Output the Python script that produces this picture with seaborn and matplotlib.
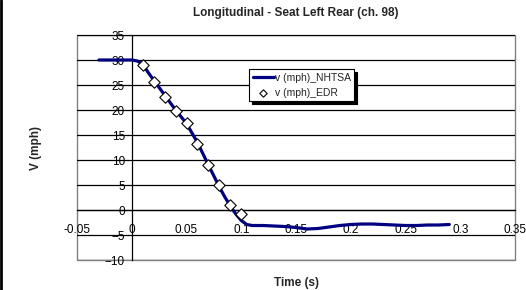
import pandas as pd
import matplotlib
matplotlib.use('Agg')
import matplotlib.pyplot as plt
import seaborn as sns
from matplotlib.patches import Rectangle
from matplotlib.lines import Line2D

# NHTSA velocity trace
t_nhtsa = [-0.03, -0.02, -0.01, 0.0, 0.005, 0.01, 0.015, 0.02, 0.03, 0.04, 0.05,
           0.06, 0.07, 0.075, 0.08, 0.085, 0.09, 0.095, 0.1, 0.105, 0.11, 0.12,
           0.13, 0.14, 0.15, 0.16, 0.17, 0.18, 0.19, 0.2, 0.21, 0.22, 0.23, 0.24,
           0.25, 0.26, 0.27, 0.28, 0.29]
v_nhtsa = [30, 30, 30, 30, 29.8, 29.2, 27.5, 26.0, 23.0, 20.0, 17.3,
           13.5, 9.0, 6.8, 4.6, 2.6, 0.8, -0.8, -2.1, -2.9, -3.1, -3.1,
           -3.2, -3.3, -3.5, -3.8, -3.7, -3.4, -3.1, -2.9, -2.8, -2.8, -2.9, -3.0,
           -3.1, -3.1, -3.0, -3.0, -2.9]

# EDR samples
t_edr = [0.01, 0.02, 0.03, 0.04, 0.05, 0.06, 0.07, 0.08, 0.09, 0.1]
v_edr = [29.0, 25.7, 22.7, 19.8, 17.5, 13.3, 9.0, 5.1, 1.1, -0.8]

x_ticks = [-0.05, 0, 0.05, 0.1, 0.15, 0.2, 0.25, 0.3, 0.35]
x_labels = ['-0.05', '0', '0.05', '0.1', '0.15', '0.2', '0.25', '0.3', '0.35']
y_ticks = list(range(-10, 40, 5))

sns.set_style('white')
plt.rcParams['font.family'] = ['Liberation Sans', 'DejaVu Sans']

df_line = pd.DataFrame({'Time': t_nhtsa, 'V': v_nhtsa})
df_pts = pd.DataFrame({'Time': t_edr, 'V': v_edr})

fig = plt.figure(figsize=(5.26, 2.9), dpi=100)
ax = fig.add_axes([0.1464, 0.1034, 0.8327, 0.7759])

# horizontal gridlines
for y in y_ticks:
    ax.axhline(y, color='black', lw=0.9, zorder=1)

sns.lineplot(data=df_line, x='Time', y='V', ax=ax, color='#000080', lw=2.3,
             label='v (mph)_NHTSA', zorder=3)
sns.scatterplot(data=df_pts, x='Time', y='V', ax=ax, marker='D', s=34,
                facecolor='white', edgecolor='black', linewidth=0.8,
                label='v (mph)_EDR', zorder=4)

ax.set_xlim(-0.05, 0.35)
ax.set_ylim(-10, 35)

ax.spines['left'].set_position(('data', 0))
ax.spines['bottom'].set_position(('data', 0))
ax.spines['top'].set_visible(False)
ax.spines['right'].set_visible(False)
for s in ['left', 'bottom']:
    ax.spines[s].set_color('black')
    ax.spines[s].set_linewidth(0.9)

ax.add_patch(Rectangle((0, 0), 1, 1, transform=ax.transAxes, fill=False,
                       edgecolor='#808080', lw=1, zorder=0, clip_on=False))

ax.set_xticks(x_ticks)
ax.set_xticklabels(x_labels)
ax.set_yticks(y_ticks)
ax.tick_params(axis='x', direction='in', length=4, width=0.9, pad=10,
               labelsize=8.5, colors='black')
ax.tick_params(axis='y', direction='out', length=4, width=0.9, pad=1,
               labelsize=8.5, colors='black')

ax.set_xlabel('Time (s)', fontsize=8.5, fontweight='bold')
ax.xaxis.set_label_coords(0.5, -0.075)
ax.set_ylabel('V (mph)', fontsize=8.5, fontweight='bold')
ax.yaxis.set_label_coords(-0.08, 0.5)
ax.set_title('Longitudinal - Seat Left Rear (ch. 98)', fontsize=8.5,
             fontweight='bold', pad=14)

leg = ax.legend(loc='upper left', bbox_to_anchor=(0.393, 0.848), fontsize=7.5,
                frameon=True, fancybox=False, edgecolor='black',
                shadow={'color': 'black', 'alpha': 1, 'ox': 2, 'oy': -2},
                handlelength=2.0, handletextpad=0.1, borderpad=0.35,
                borderaxespad=0, labelspacing=0.45)
leg.get_frame().set_linewidth(0.8)
for h in leg.legend_handles[1:]:
    h.set_sizes([14])

# black border line on the left edge of the image
fig.add_artist(Line2D([0.002, 0.002], [0, 1], transform=fig.transFigure,
                      color='black', lw=2))

fig.savefig('out.png', dpi=100)
